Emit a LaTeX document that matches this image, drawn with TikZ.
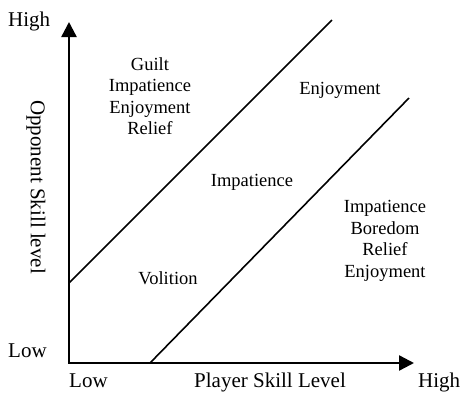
\documentclass[tikz,border=0pt]{standalone}
\usepackage{fontspec}
\setmainfont{Liberation Serif}
\usetikzlibrary{arrows.meta}
\tikzset{
  axis/.style={line width=2.4pt, {Triangle[length=15pt,width=15pt]}-{Triangle[length=15pt,width=15pt]}},
  border/.style={line width=1.6pt},
  axislabel/.style={font=\fontsize{21}{24}\selectfont, inner sep=0pt},
  region/.style={font=\fontsize{18.5}{21.5}\selectfont, align=center, inner sep=0pt}
}

\begin{document}
\begin{tikzpicture}[x=1pt, y=-1pt]
      \useasboundingbox (0,0) rectangle (464,394);
      % Define axis points
      \coordinate (origin) at (69,363);
      \coordinate (ytop)   at (69,22);
      \coordinate (xend)   at (414,363);
      \coordinate (a1) at (69,283);
      \coordinate (a2) at (332,20);
      \coordinate (b1) at (150,363);
      \coordinate (b2) at (409,98);
      % Axis labels
      \node[axislabel, anchor=base west] (yhigh) at (8,26) {High};
      \node[axislabel, anchor=base west] (ylow)  at (8,357) {Low};
      \node[axislabel, anchor=base west] (xlow)  at (69,387) {Low};
      \node[axislabel, anchor=base west] (xhigh) at (418,387) {High};
      \node[axislabel, anchor=base] (xtitle) at (270,387) {Player Skill Level};
      \node[axislabel, rotate=-90] (ytitle) at (36,187) {Opponent Skill level};
      % Region labels
      \node[region] (upper) at (150,96) {Guilt\\Impatience\\Enjoyment\\Relief};
      \node[region] (midtop) at (340,90) {Enjoyment};
      \node[region] (mid) at (252,182) {Impatience};
      \node[region] (midlow) at (168,278) {Volition};
      \node[region] (lower) at (385,241) {Impatience\\Boredom\\Relief\\Enjoyment};
      % Axes and borders
      \draw[axis] (ytop) -- (origin) -- (xend);
      \draw[border] (a1) -- (a2);
      \draw[border] (b1) -- (b2);
\end{tikzpicture}
\end{document}
